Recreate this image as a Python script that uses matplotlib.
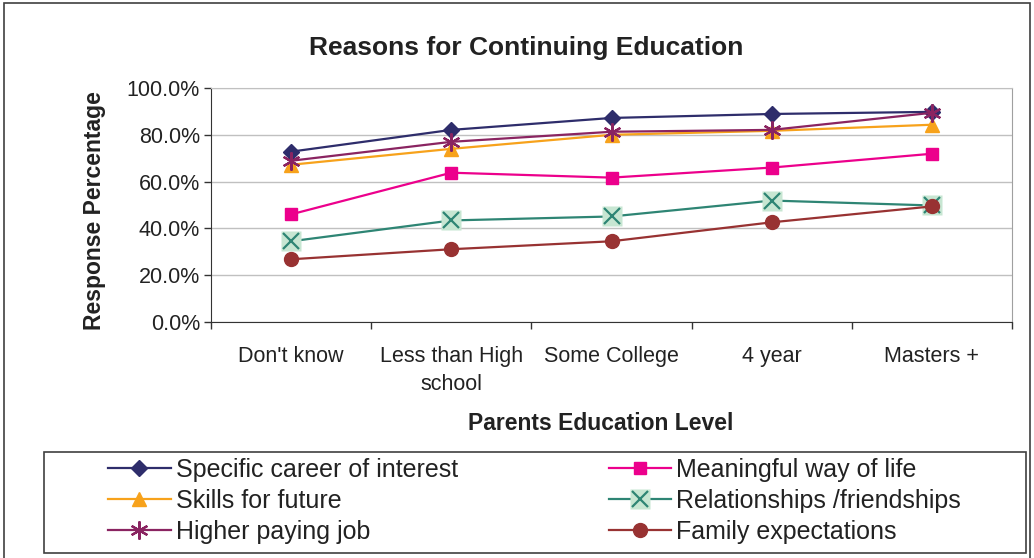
import matplotlib.pyplot as plt
from matplotlib.patches import Rectangle
from matplotlib.ticker import FuncFormatter

plt.rcParams["font.family"] = ["Liberation Sans", "DejaVu Sans"]

CATEGORIES = ["Don't know", "Less than High\nschool", "Some College", "4 year", "Masters +"]

SPECIFIC_CAREER = [72.8, 82.1, 87.2, 88.9, 89.8]
MEANINGFUL_LIFE = [46.0, 63.8, 61.7, 66.0, 71.9]
SKILLS_FUTURE = [67.2, 74.0, 80.0, 81.7, 84.3]
HIGHER_PAY = [68.9, 77.0, 81.3, 82.1, 89.4]
RELATIONSHIPS = [34.5, 43.4, 45.1, 51.9, 49.8]
FAMILY_EXPECT = [26.8, 31.1, 34.5, 42.6, 49.4]

Y_TICKS = [0, 20, 40, 60, 80, 100]

W, H = 1034, 558


def fx(px):
    return px / W


def fy(py):
    return 1 - py / H


fig = plt.figure(figsize=(W / 100, H / 100), dpi=100)
ax = fig.add_axes([fx(211), fy(322), fx(1012) - fx(211), fy(88) - fy(322)])

x = list(range(len(CATEGORIES)))
lw = 1.6

h_specific, = ax.plot(x, SPECIFIC_CAREER, color="#2E2D6B", lw=lw, marker="D",
                      markersize=8.5, mec="#2E2D6B", mfc="#2E2D6B", zorder=5)
h_meaning, = ax.plot(x, MEANINGFUL_LIFE, color="#EC008C", lw=lw, marker="s",
                     markersize=9, mec="#EC008C", mfc="#EC008C", zorder=4)
h_skills, = ax.plot(x, SKILLS_FUTURE, color="#F7A21B", lw=lw, marker="^",
                    markersize=10, mec="#F7A21B", mfc="#F7A21B", zorder=4)
h_higher, = ax.plot(x, HIGHER_PAY, color="#8A2461", lw=lw, marker=(6, 2, 0),
                    markersize=13, mec="#8A2461", mew=1.6, zorder=6)
# relationships: an x drawn on a pale green square
h_rel_bg, = ax.plot(x, RELATIONSHIPS, color="#2E8574", lw=lw, marker="s",
                    markersize=15, mec="none", mfc="#C7E6D2", zorder=3)
h_rel_x, = ax.plot(x, RELATIONSHIPS, ls="none", marker="x", markersize=11,
                   mec="#2E8574", mew=1.6, zorder=3.5)
h_family, = ax.plot(x, FAMILY_EXPECT, color="#983232", lw=lw, marker="o",
                    markersize=10, mec="#983232", mfc="#983232", zorder=4)

ax.set_xlim(-0.5, len(CATEGORIES) - 0.5)
ax.set_ylim(0, 100)
ax.set_yticks(Y_TICKS)
ax.yaxis.set_major_formatter(FuncFormatter(lambda v, _: f"{v:.1f}%"))
ax.tick_params(axis="y", direction="out", length=5, width=1, pad=3,
               labelsize=15.5, colors="#333333", labelcolor="#222222")

ax.set_xticks(x)
ax.set_xticklabels(CATEGORIES, linespacing=1.45)
ax.set_xticks([i - 0.5 for i in range(len(CATEGORIES) + 1)], minor=True)
ax.tick_params(axis="x", which="major", length=0, pad=17, labelsize=15.5,
               labelcolor="#222222")
ax.tick_params(axis="x", which="minor", direction="out", length=5, width=1,
               color="#333333")

ax.grid(axis="y", color="#C0C0C0", lw=1)
ax.set_axisbelow(True)
ax.spines["left"].set_color("#333333")
ax.spines["bottom"].set_color("#333333")
ax.spines["top"].set_color("#C0C0C0")
ax.spines["right"].set_color("#A0A0A0")

fig.text(0.5093, fy(48), "Reasons for Continuing Education", ha="center",
         va="center", fontsize=19, fontweight="bold", color="#222222")
fig.text(fx(95), fy(211), "Response Percentage", ha="center", va="center",
         rotation=90, fontsize=16.5, fontweight="bold", color="#222222")
fig.text(fx(601), fy(423), "Parents Education Level", ha="center",
         va="center", fontsize=16.5, fontweight="bold", color="#222222")

# outer chart border and legend box
fig.patches.append(Rectangle((fx(4), -0.05), fx(1030) - fx(4), fy(3) + 0.05,
                             transform=fig.transFigure, fill=False,
                             ec="#404040", lw=1.2))
fig.patches.append(Rectangle((fx(44), fy(553)), fx(1026) - fx(44),
                             fy(452) - fy(553), transform=fig.transFigure,
                             fill=False, ec="#404040", lw=1.2))

handles = [h_specific, h_skills, h_higher, h_meaning, (h_rel_bg, h_rel_x),
           h_family]
labels = ["Specific career of interest", "Skills for future",
          "Higher paying job", "Meaningful way of life",
          "Relationships /friendships", "Family expectations"]
fig.legend(handles, labels, ncol=2, loc="center left",
           bbox_to_anchor=(fx(108), fy(501)), frameon=False, fontsize=18,
           handlelength=2.5, handletextpad=0.2, columnspacing=6.05,
           labelspacing=0.28, borderpad=0, borderaxespad=0,
           labelcolor="#222222")

fig.savefig("out.png", dpi=100)
